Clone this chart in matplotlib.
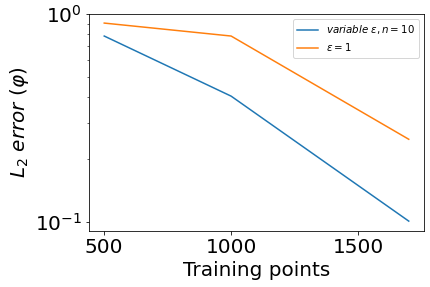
import matplotlib
matplotlib.use('Agg')
import matplotlib.pyplot as plt

training_points = [500, 1000, 1700]
err_variable = [0.784, 0.403, 0.101]
err_eps1 = [0.905, 0.784, 0.25]
xticks = [500, 1000, 1500]

fig = plt.figure(figsize=(430 / 72, 287 / 72), dpi=72)
ax = fig.add_axes([0.207, 0.195, 0.779, 0.756])

ax.plot(training_points, err_variable, label=r'$variable\ \epsilon, n=10$')
ax.plot(training_points, err_eps1, label=r'$\epsilon=1$')
ax.set_yscale('log')
ax.set_ylim(0.0905, 1.0)
ax.set_xticks(xticks)

ax.set_xlabel('Training points', fontsize=20)
ax.set_ylabel(r'$L_2$ $error$ $(\varphi)$', fontsize=20)
ax.tick_params(axis='both', which='major', labelsize=20)
ax.legend(loc='upper right', fontsize=10.3)

fig.savefig('out.png', dpi=72)
